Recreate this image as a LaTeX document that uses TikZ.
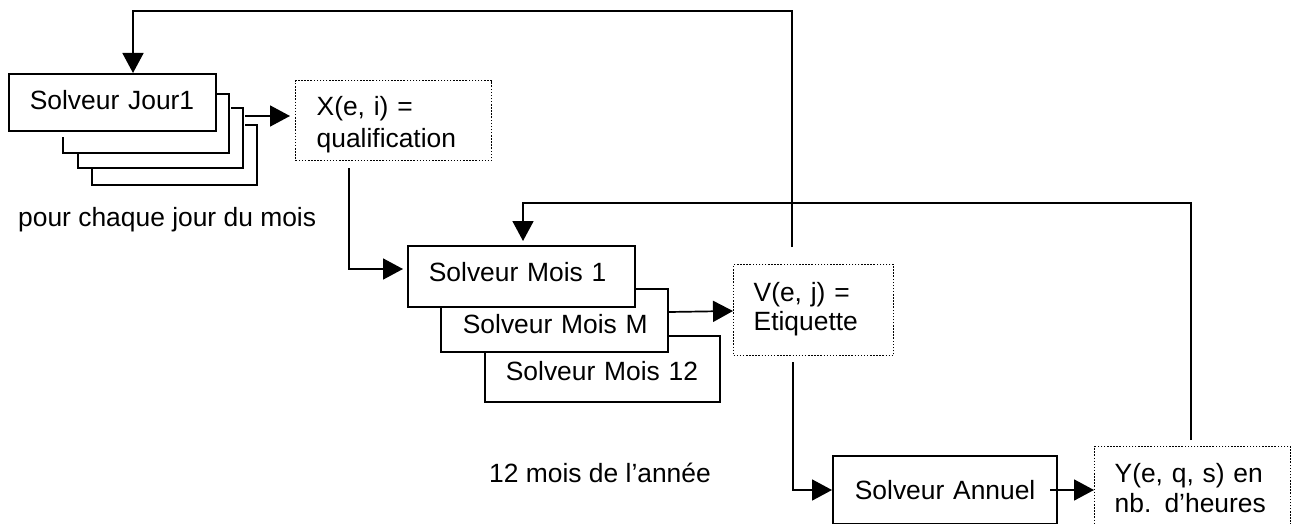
\documentclass[tikz,border=0pt]{standalone}
\usepackage{fontspec}
\setmainfont{Liberation Sans}
\usetikzlibrary{arrows.meta,calc}
\tikzset{
  solid box/.style={draw=black,line width=1.7pt,fill=white},
  dot box/.style={draw=black,line width=1.3pt,dash pattern=on 1.5pt off 1.6pt,fill=white},
  geom/.style n args={4}{anchor=north west,inner ysep=0pt,inner xsep=#4 pt,
     minimum width=#1 pt,text width=#1 pt-#4 pt-#4 pt,align=left,
     text height=#3 pt,text depth=#2 pt-#3 pt},
  conn/.style={draw=black,line width=1.7pt},
  arr/.style={conn,-{Triangle[length=20pt,width=21pt]}},
  plain/.style={inner sep=0pt,anchor=base west},
  every node/.style={font=\fontsize{26.4pt}{30pt}\selectfont}
}
\begin{document}
\begin{tikzpicture}[x=1pt,y=-1pt]
\path[fill=white] (0,0) rectangle (1292,524);
\clip (0,0) rectangle (1292,524);
% stacked day sheets
\draw[conn] (217,94) -- (229,94) -- (229,153) -- (63,153) -- (63,137);
\draw[conn] (231,108) -- (243,108) -- (243,168) -- (78,168) -- (78,152);
\draw[conn] (245,125) -- (257,125) -- (257,185) -- (92,185) -- (92,168);
% nodes
\node[solid box,geom={207}{57}{36}{21}] (jour) at (8,73) {\mbox{Solveur Jour1}};
\node[dot box,geom={196}{80}{35}{21}] (xb) at (295,80) {X(e, i) =\\[2pt]qualification};
\node[solid box,geom={235}{66}{45}{21}] (m12) at (484,335) {\mbox{Solveur Mois 12}};
\node[solid box,geom={227}{63}{45}{22}] (mm) at (440,288) {\mbox{Solveur Mois M}};
\node[solid box,geom={227}{61}{36}{21}] (m1) at (407,245) {\mbox{Solveur Mois 1}};
\node[dot box,geom={160}{91}{37}{20}] (vb) at (733,264) {V(e, j) =\\[-1pt]Etiquette};
\node[solid box,geom={224}{68}{44}{22}] (an) at (832,455) {\mbox{Solveur Annuel}};
\node[dot box,geom={196}{90}{36}{20}] (yb) at (1094,446) {Y(e, q, s) en\\nb. d’heures};
\node[plain] (t1) at (18,226) {pour chaque jour du mois};
\node[plain] (t2) at (489,482) {12 mois de l’année};
% free ends
\coordinate (jo) at (245,116);
\coordinate (xo) at (349,168);
\coordinate (mo) at (669,312);
\coordinate (vo) at (793,362);
\coordinate (vt) at (792,247);
\coordinate (jt) at (133,11);
\coordinate (ao) at (1050,490);
\coordinate (yt) at (1191,440);
\coordinate (mt) at (523,203);
% connectors
\draw[arr] (jo) -- ([xshift=-5pt]jo -| xb.west);
\draw[arr] (xo) |- ([xshift=-4pt]m1.west |- 0,269);
\draw[arr] (mo) -- ([yshift=1pt]mo -| vb.west);
\draw[arr] (vo) |- (an.west |- ao);
\draw[arr] (ao) -- (ao -| yb.west);
\draw[arr] (vt) |- (jt) -- (jt |- jour.north);
\draw[arr] (yt) |- (mt) -- ([yshift=4pt]mt |- m1.north);
\end{tikzpicture}
\end{document}
